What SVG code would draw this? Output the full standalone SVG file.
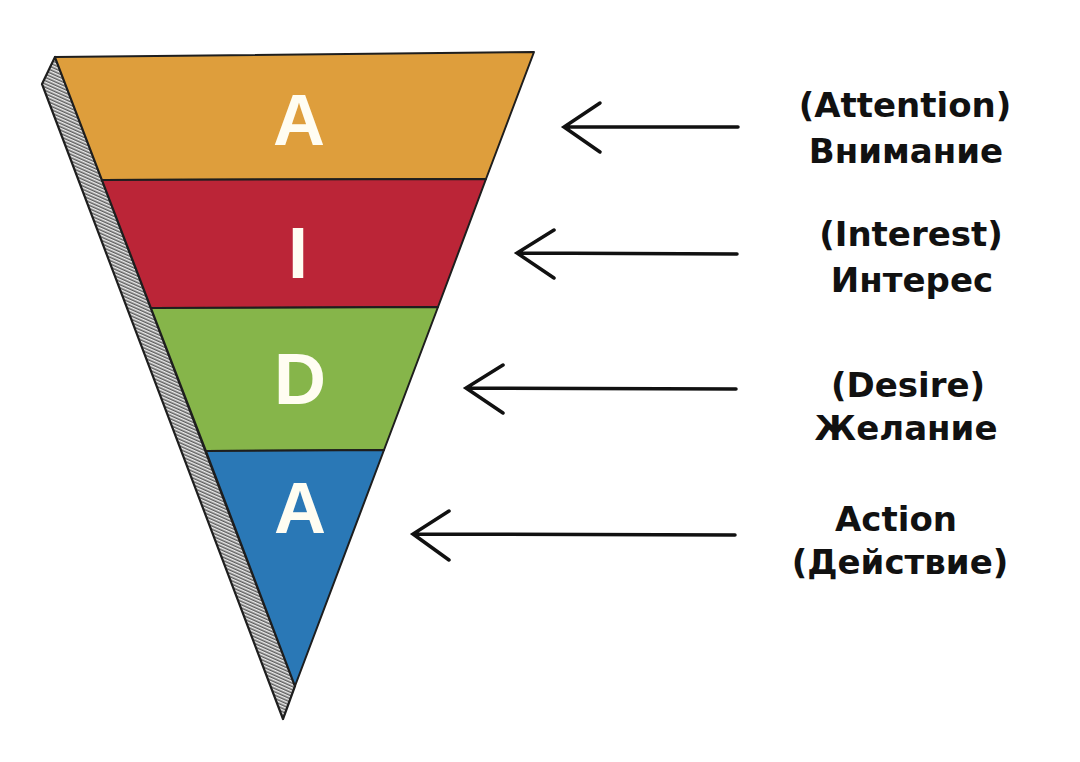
<svg xmlns="http://www.w3.org/2000/svg" width="1080" height="762" viewBox="0 0 1080 762">
<defs>
<pattern id="hatch" width="6" height="3" patternUnits="userSpaceOnUse" patternTransform="rotate(24)">
<rect width="6" height="3" fill="#ececec"/>
<line x1="0" y1="1.2" x2="6" y2="1.2" stroke="#3a3a3a" stroke-width="1.2"/>
</pattern>
<style>
.band{stroke:#1e1e1e;stroke-width:2;stroke-linejoin:round}
.big{font-family:"Liberation Sans",Arial,sans-serif;font-weight:bold;font-size:72px;fill:#fffdf2;text-anchor:middle}
.lbl{font-family:"DejaVu Sans",Verdana,sans-serif;font-weight:bold;font-size:34px;fill:#111;text-anchor:middle}
.arr{stroke:#111;stroke-width:3.5;fill:none;stroke-linecap:round;stroke-linejoin:miter}
</style>
</defs>
<rect width="1080" height="762" fill="#fff"/>
<g id="strip">
<polygon points="55,57 42,84 283,719 295,686" fill="url(#hatch)" stroke="#1e1e1e" stroke-width="2.2" stroke-linejoin="round"/>
</g>
<g id="attention">
<polygon class="band" points="55,57 534,52 486,179 102,180" fill="#DE9E3C"/>
<text class="big" x="299" y="145">A</text>
</g>
<g id="interest">
<polygon class="band" points="102,180 486,179 438,307 151,308" fill="#BB2537"/>
<text class="big" x="298" y="278">I</text>
</g>
<g id="desire">
<polygon class="band" points="151,308 438,307 384,450 206,451" fill="#86B54A"/>
<text class="big" x="300" y="404">D</text>
</g>
<g id="action">
<polygon class="band" points="206,451 384,450 295,686" fill="#2A78B6"/>
<text class="big" x="300" y="533">A</text>
</g>
<g id="connectors">
<path class="arr" d="M738,127 L564,127 M600,103 L564,127 L600,152"/>
<path class="arr" d="M737,254 L517,253 M554,230 L517,253 L554,278"/>
<path class="arr" d="M736,389 L466,388 M503,365 L466,388 L503,413"/>
<path class="arr" d="M735,535 L413,534 M449,511 L413,534 L449,560"/>
</g>
<g id="labels">
<text class="lbl" x="905" y="117">(Attention)</text>
<text class="lbl" x="906" y="163">Внимание</text>
<text class="lbl" x="911" y="246">(Interest)</text>
<text class="lbl" x="912" y="292">Интерес</text>
<text class="lbl" x="908" y="397">(Desire)</text>
<text class="lbl" x="906" y="440">Желание</text>
<text class="lbl" x="896" y="531">Action</text>
<text class="lbl" x="900" y="574">(Действие)</text>
</g>
</svg>
